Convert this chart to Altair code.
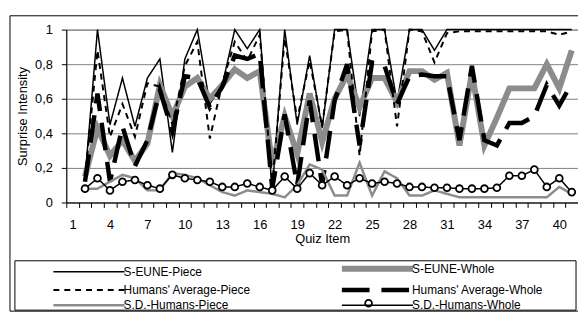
import altair as alt
import pandas as pd

# ---------------- data ----------------
all_items = list(range(1, 42))          # category axis: quiz items 1..41
items = list(range(2, 42))              # items that carry values

# drawing order (Excel series order)
series_names = [
    "S-EUNE-Piece",
    "S-EUNE-Whole",
    "Humans' Average-Piece",
    "Humans' Average-Whole",
    "S.D.-Humans-Piece",
    "S.D.-Humans-Whole",
]
# legend order (legend fills column by column)
legend_order = [
    "S-EUNE-Piece",
    "Humans' Average-Piece",
    "S.D.-Humans-Piece",
    "S-EUNE-Whole",
    "Humans' Average-Whole",
    "S.D.-Humans-Whole",
]

s_eune_piece = [0.14, 1.0, 0.45, 0.72, 0.44, 0.72, 0.83, 0.29, 0.83, 1.0,
                0.57, 0.68, 1.0, 0.89, 1.0, 0.07, 1.0, 0.45, 0.85, 0.43,
                1.0, 1.0, 0.50, 1.0, 1.0, 0.58, 1.0, 1.0, 0.88, 1.0,
                1.0, 1.0, 1.0, 1.0, 1.0, 1.0, 1.0, 1.0, 1.0, 1.0]

s_eune_whole = [0.15, 0.43, 0.27, 0.36, 0.24, 0.34, 0.68, 0.50, 0.67, 0.72,
                0.60, 0.68, 0.77, 0.72, 0.76, 0.22, 0.50, 0.28, 0.63, 0.35,
                0.60, 0.74, 0.55, 0.72, 0.72, 0.58, 0.76, 0.76, 0.71, 0.75,
                0.33, 0.75, 0.33, 0.49, 0.66, 0.66, 0.66, 0.80, 0.66, 0.88]

humans_avg_piece = [0.14, 0.88, 0.38, 0.57, 0.38, 0.69, 0.67, 0.45, 0.79, 0.93,
                    0.37, 0.69, 0.93, 0.82, 0.97, 0.10, 0.95, 0.48, 0.82, 0.44,
                    0.99, 1.0, 0.27, 0.99, 1.0, 0.44, 1.0, 0.99, 0.81, 0.98,
                    0.99, 0.99, 0.99, 0.99, 0.99, 0.99, 0.99, 0.99, 0.97, 0.99]

humans_avg_whole = [0.12, 0.63, 0.12, 0.44, 0.21, 0.36, 0.65, 0.41, 0.73, 0.72,
                    0.55, 0.67, 0.85, 0.83, 0.86, 0.08, 0.51, 0.10, 0.59, 0.10,
                    0.59, 0.80, 0.33, 0.81, 0.79, 0.57, 0.73, 0.74, 0.73, 0.73,
                    0.36, 0.79, 0.36, 0.33, 0.46, 0.46, 0.50, 0.68, 0.56, 0.69]

sd_humans_piece = [0.08, 0.08, 0.12, 0.16, 0.14, 0.07, 0.07, 0.17, 0.16, 0.14,
                   0.10, 0.06, 0.04, 0.07, 0.06, 0.05, 0.03, 0.10, 0.22, 0.19,
                   0.04, 0.04, 0.23, 0.04, 0.18, 0.14, 0.04, 0.04, 0.07, 0.05,
                   0.03, 0.03, 0.03, 0.03, 0.03, 0.03, 0.03, 0.03, 0.09, 0.05]

sd_humans_whole = [0.08, 0.14, 0.07, 0.12, 0.13, 0.10, 0.08, 0.16, 0.14, 0.13,
                   0.12, 0.09, 0.09, 0.11, 0.09, 0.07, 0.15, 0.08, 0.17, 0.10,
                   0.15, 0.10, 0.14, 0.11, 0.12, 0.11, 0.09, 0.09, 0.085, 0.085,
                   0.08, 0.08, 0.08, 0.085, 0.155, 0.155, 0.19, 0.09, 0.14, 0.06]

y_ticks = [0, 0.2, 0.4, 0.6, 0.8, 1.0]

all_values = [s_eune_piece, s_eune_whole, humans_avg_piece,
              humans_avg_whole, sd_humans_piece, sd_humans_whole]

rows = []
for name, vals in zip(series_names, all_values):
    for it, v in zip(items, vals):
        rows.append({"item": it, "value": v, "series": name})
df = pd.DataFrame(rows)

sdw = pd.DataFrame({"item": items, "value": sd_humans_whole})

# ---------------- styles (in legend order) ----------------
FONT = "Liberation Sans"
style = {
    "S-EUNE-Piece":          ("#000000", 1.5, [1, 0]),
    "S-EUNE-Whole":          ("#8c8c8c", 6.0, [1, 0]),
    "Humans' Average-Piece": ("#000000", 2.0, [6, 5]),
    "Humans' Average-Whole": ("#000000", 4.5, [28, 12]),
    "S.D.-Humans-Piece":     ("#8c8c8c", 2.5, [1, 0]),
    "S.D.-Humans-Whole":     ("#000000", 1.5, [1, 0]),
}
colors = [style[s][0] for s in legend_order]
widths = [style[s][1] for s in legend_order]
dashes = [style[s][2] for s in legend_order]

W, H = 518, 175

x_enc = alt.X(
    "item:O",
    bandPosition=0.5,
    scale=alt.Scale(type="band", domain=all_items, paddingInner=0, paddingOuter=0),
    axis=alt.Axis(
        title="Quiz Item", labelAngle=0, tickBand="extent",
        labelExpr="(datum.value - 1) % 3 == 0 ? datum.label : ''",
        labelFont=FONT, labelFontSize=13, labelColor="black", labelPadding=11,
        titleFont=FONT, titleFontSize=13, titleFontWeight="normal",
        titleColor="black", titlePadding=2,
        tickColor="black", tickSize=5, domainColor="black", grid=False,
        labelOverlap=False,
    ),
)

y_enc = alt.Y(
    "value:Q",
    scale=alt.Scale(domain=[0, 1], nice=False),
    axis=alt.Axis(
        values=y_ticks, title="Surprise Intensity",
        labelExpr="replace(format(datum.value, '.1~f'), '.', ',')",
        labelFont=FONT, labelFontSize=13, labelColor="black", labelPadding=9,
        titleFont=FONT, titleFontSize=13, titleFontWeight="normal",
        titleColor="black", titlePadding=5,
        tickColor="black", tickSize=5, domainColor="black",
        grid=True, gridColor="#808080", gridWidth=1,
    ),
)

legend = alt.Legend(
    title=None, orient="none", legendX=-17, legendY=236, columns=2,
    symbolType="M-1,0H35", symbolSize=16, labelFont=FONT, labelFontSize=12,
    labelColor="black", columnPadding=80, rowPadding=0.5, labelOffset=63,
    padding=0, symbolLimit=0,
)

color_enc = alt.Color("series:N", scale=alt.Scale(domain=legend_order, range=colors), legend=legend)
width_enc = alt.StrokeWidth("series:N", scale=alt.Scale(type="ordinal", domain=legend_order, range=widths), legend=legend)
dash_enc = alt.StrokeDash("series:N", scale=alt.Scale(domain=legend_order, range=dashes), legend=legend)

one = pd.DataFrame({"k": [0]})

# decoration: outer frame, legend box and the marker of the last legend entry
frame = alt.Chart(one).mark_rect(
    fill="white", fillOpacity=0, stroke="black", strokeWidth=1
).encode(x=alt.value(-57), x2=alt.value(540), y=alt.value(-14), y2=alt.value(285))

legend_box = alt.Chart(one).mark_rect(
    fill="white", fillOpacity=0, stroke="black", strokeWidth=1
).encode(x=alt.value(-52), x2=alt.value(516), y=alt.value(234), y2=alt.value(284))

legend_marker = alt.Chart(one).mark_point(
    shape="circle", filled=True, fill="white", stroke="black", strokeWidth=1.8,
    size=48, opacity=1
).encode(x=alt.value(306), y=alt.value(277))

line_layers = []
for name in series_names:
    line_layers.append(
        alt.Chart(df).transform_filter(alt.datum.series == name).mark_line(strokeJoin="miter").encode(
            x=x_enc, y=y_enc, color=color_enc, strokeWidth=width_enc, strokeDash=dash_enc,
        )
    )

points = alt.Chart(sdw).mark_point(
    shape="circle", filled=True, fill="white", stroke="black", strokeWidth=1.8,
    size=48, opacity=1
).encode(x=x_enc, y=y_enc)

chart = alt.layer(frame, legend_box, *line_layers, points, legend_marker).properties(
    width=W, height=H,
    padding={"left": 59, "top": 20, "right": 0, "bottom": 111},
    autosize=alt.AutoSizeParams(type="none"),
    background="white",
).configure_view(stroke="#808080", strokeWidth=1)

chart.save("out.html", embed_options={"renderer": "svg", "actions": False})
